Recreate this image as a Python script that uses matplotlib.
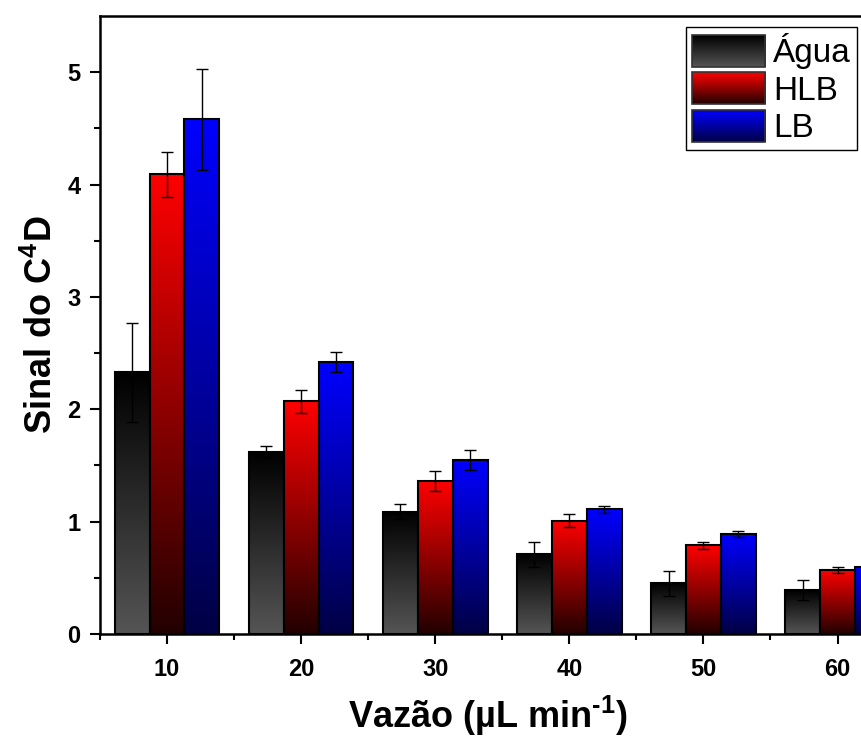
import numpy as np
import matplotlib
matplotlib.use("Agg")
import matplotlib.pyplot as plt
from matplotlib.colors import LinearSegmentedColormap
from matplotlib.legend_handler import HandlerBase
from matplotlib.image import BboxImage
from matplotlib.transforms import Bbox, TransformedBbox
from matplotlib.patches import Rectangle

plt.rcParams['font.family'] = ['Liberation Sans', 'DejaVu Sans']
plt.rcParams['mathtext.fontset'] = 'custom'
plt.rcParams['mathtext.rm'] = 'Liberation Sans:bold'
plt.rcParams['mathtext.bf'] = 'Liberation Sans:bold'
plt.rcParams['mathtext.default'] = 'bf'

# data
vazao = [10, 20, 30, 40, 50, 60]
series = ['Água', 'HLB', 'LB']
agua = [2.33, 1.62, 1.09, 0.71, 0.45, 0.39]
agua_err = [0.44, 0.05, 0.07, 0.11, 0.11, 0.09]
hlb = [4.09, 2.07, 1.36, 1.01, 0.79, 0.57]
hlb_err = [0.20, 0.10, 0.09, 0.06, 0.03, 0.03]
lb = [4.58, 2.42, 1.55, 1.11, 0.89, 0.60]
lb_err = [0.45, 0.09, 0.09, 0.03, 0.03, 0.04]

# (bottom colour, top colour) of each gradient
grad_colors = [('#555555', '#000000'), ('#220000', '#ff0000'), ('#000044', '#0000ff')]
cmaps = [LinearSegmentedColormap.from_list('g%d' % i, c) for i, c in enumerate(grad_colors)]
grad = np.linspace(0, 1, 256).reshape(-1, 1)

fig = plt.figure(figsize=(8.61, 7.42), dpi=100)
ax = fig.add_axes([100 / 861, 108 / 742, 761 / 861, 618 / 742])

width = 2.6
offsets = [-width, 0, width]
vals = [agua, hlb, lb]
errs = [agua_err, hlb_err, lb_err]

for k in range(3):
    xs = np.array(vazao) + offsets[k]
    bars = ax.bar(xs, vals[k], width=width, facecolor='none', edgecolor='black',
                  linewidth=1.5, zorder=3)
    for b in bars:
        x0 = b.get_x()
        h = b.get_height()
        ax.imshow(grad, extent=[x0, x0 + width, 0, h], origin='lower', cmap=cmaps[k],
                  aspect='auto', interpolation='bilinear', zorder=2)
    ax.errorbar(xs, vals[k], yerr=errs[k], fmt='none', ecolor='black', elinewidth=1,
                capsize=4, capthick=1, zorder=4)

ax.set_xlim(5, 61.75)
ax.set_ylim(0, 5.5)
ax.set_aspect('auto')

ax.set_xticks(vazao)
ax.set_xticks(np.arange(5, 61, 10), minor=True)
ax.set_yticks([0, 1, 2, 3, 4, 5])
ax.set_yticks(np.arange(0.5, 5.5, 1), minor=True)
ax.tick_params(axis='both', which='major', direction='out', length=7, width=1.5,
               labelsize=17)
ax.tick_params(axis='both', which='minor', direction='out', length=4, width=1.5)
ax.tick_params(axis='y', which='major', pad=7)
ax.tick_params(axis='x', which='major', pad=10)
for lab in ax.get_xticklabels() + ax.get_yticklabels():
    lab.set_fontweight('bold')

for s in ['left', 'bottom', 'top']:
    ax.spines[s].set_linewidth(1.8)
ax.spines['right'].set_visible(False)

ax.set_xlabel('Vazão (µL min$^{‐1}$)', fontsize=26, fontweight='bold')
ax.set_ylabel('Sinal do C$^{4}$D', fontsize=26, fontweight='bold')
ax.yaxis.set_label_coords(-0.052, 0.5)
ax.xaxis.set_label_coords(0.51, -0.097)


class GradHandler(HandlerBase):
    def __init__(self, cmap):
        super().__init__()
        self.cmap = cmap

    def create_artists(self, legend, orig_handle, xdescent, ydescent, width, height,
                       fontsize, trans):
        bb = TransformedBbox(Bbox.from_bounds(-xdescent, -ydescent, width, height), trans)
        img = BboxImage(bb, cmap=self.cmap, interpolation='bilinear', origin='lower')
        img.set_data(grad)
        rect = Rectangle((-xdescent, -ydescent), width, height, facecolor='none',
                         edgecolor='#333333', linewidth=1.2, transform=trans)
        return [img, rect]


handles = [Rectangle((0, 0), 1, 1) for _ in series]
leg = ax.legend(handles, series, loc='upper right',
                bbox_to_anchor=((857 - 100) / 761, (634 - 27) / 618),
                borderaxespad=0, fontsize=24, frameon=True, fancybox=False,
                edgecolor='black', framealpha=1, handlelength=2.2, handleheight=1.1,
                labelspacing=0.1, handletextpad=0.25, borderpad=0.18,
                handler_map={h: GradHandler(cmaps[i]) for i, h in enumerate(handles)})
leg.get_frame().set_linewidth(1.0)
leg.set_zorder(10)

fig.savefig('out.png', dpi=100)
